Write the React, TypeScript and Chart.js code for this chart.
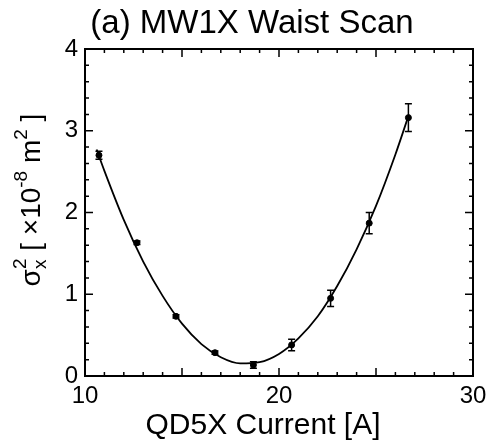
import React, { useEffect, useRef } from "react";
import { Chart, registerables } from "chart.js";

Chart.register(...registerables);

// ---- data ----
const measuredCurrent = [10.72, 12.68, 14.69, 16.7, 18.68, 20.65, 22.66, 24.65, 26.67];
const measuredSigma2 = [2.7, 1.63, 0.73, 0.285, 0.135, 0.38, 0.95, 1.87, 3.16];
const measuredError = [0.05, 0.02, 0.02, 0.02, 0.04, 0.07, 0.1, 0.13, 0.17];

const fitCurrent = [10.6, 11, 12, 13, 14, 15, 16, 17, 18, 19, 20, 21, 22, 23, 24, 25, 26, 26.7];
const fitSigma2 = [2.77, 2.51, 1.91, 1.4, 0.98, 0.64, 0.39, 0.23, 0.155, 0.17, 0.27, 0.46, 0.73, 1.1, 1.55, 2.08, 2.71, 3.2];

const xTickLabels = [10, 20, 30];
const yTickLabels = [0, 1, 2, 3, 4];

const titleText = "(a) MW1X Waist Scan";
const xTitleText = "QD5X Current [A]";

const FONT = "'Liberation Sans', Arial, Helvetica, sans-serif";

type Run = { t: string; size: number; dy: number; stack?: boolean };

const yTitleRuns: Run[] = [
  { t: "σ", size: 28, dy: 0 },
  { t: "x", size: 19, dy: 6 },
  { t: "2", size: 19, dy: -14, stack: true },
  { t: " [ ×10", size: 28, dy: 0 },
  { t: "-8", size: 19, dy: -13 },
  { t: " m", size: 28, dy: 0 },
  { t: "2", size: 19, dy: -13 },
  { t: " ]", size: 28, dy: 0 },
];

const decorPlugin = {
  id: "decor",
  afterDatasetsDraw(chart: any) {
    const ctx = chart.ctx as CanvasRenderingContext2D;
    const xs = chart.scales.x;
    const ys = chart.scales.y;
    ctx.save();
    ctx.strokeStyle = "#000";
    ctx.lineWidth = 1.5;
    const cap = 3.5;
    for (let i = 0; i < measuredCurrent.length; i++) {
      const px = xs.getPixelForValue(measuredCurrent[i]);
      const p1 = ys.getPixelForValue(measuredSigma2[i] + measuredError[i]);
      const p2 = ys.getPixelForValue(measuredSigma2[i] - measuredError[i]);
      ctx.beginPath();
      ctx.moveTo(px, p1);
      ctx.lineTo(px, p2);
      ctx.moveTo(px - cap, p1);
      ctx.lineTo(px + cap, p1);
      ctx.moveTo(px - cap, p2);
      ctx.lineTo(px + cap, p2);
      ctx.stroke();
    }
    ctx.restore();
  },
  afterDraw(chart: any) {
    const ctx = chart.ctx as CanvasRenderingContext2D;
    const { left, right, top, bottom } = chart.chartArea;
    const xs = chart.scales.x;
    const ys = chart.scales.y;
    ctx.save();
    ctx.strokeStyle = "#000";
    ctx.fillStyle = "#000";

    // frame
    ctx.lineWidth = 2;
    ctx.strokeRect(left, top, right - left, bottom - top);

    // inward ticks
    ctx.lineWidth = 1.5;
    ctx.beginPath();
    const xMin = xs.min, xMax = xs.max;
    const nx = Math.round(xMax - xMin);
    for (let i = 0; i <= nx; i++) {
      const v = xMin + i;
      const px = xs.getPixelForValue(v);
      const len = i % 5 === 0 ? 8 : 4;
      ctx.moveTo(px, bottom);
      ctx.lineTo(px, bottom - len);
      ctx.moveTo(px, top);
      ctx.lineTo(px, top + len);
    }
    const yMin = ys.min, yMax = ys.max;
    const ny = Math.round((yMax - yMin) / 0.2);
    for (let i = 0; i <= ny; i++) {
      const v = yMin + i * 0.2;
      const py = ys.getPixelForValue(v);
      const len = i % 5 === 0 ? 8 : 4;
      ctx.moveTo(left, py);
      ctx.lineTo(left + len, py);
      ctx.moveTo(right, py);
      ctx.lineTo(right - len, py);
    }
    ctx.stroke();

    // title
    ctx.textAlign = "center";
    ctx.textBaseline = "alphabetic";
    ctx.font = `33px ${FONT}`;
    ctx.fillText(titleText, 252, 33);

    // x title
    ctx.font = `30px ${FONT}`;
    ctx.fillText(xTitleText, 263, 434);

    // y title (rotated, with sub/superscripts)
    ctx.textAlign = "left";
    let total = 0;
    let prevStart = 0;
    let prevW = 0;
    const widths: number[] = [];
    for (const r of yTitleRuns) {
      ctx.font = `${r.size}px ${FONT}`;
      widths.push(ctx.measureText(r.t).width);
    }
    {
      let x = 0;
      yTitleRuns.forEach((r, i) => {
        const w = widths[i];
        if (r.stack) {
          const end = Math.max(prevStart + prevW, prevStart + w);
          x = end;
        } else {
          prevStart = x;
          prevW = w;
          x += w;
        }
      });
      total = x;
    }
    ctx.translate(40, 200);
    ctx.rotate(-Math.PI / 2);
    let x = -total / 2;
    prevStart = x;
    prevW = 0;
    yTitleRuns.forEach((r, i) => {
      const w = widths[i];
      ctx.font = `${r.size}px ${FONT}`;
      if (r.stack) {
        ctx.fillText(r.t, prevStart, r.dy);
        x = Math.max(prevStart + prevW, prevStart + w);
      } else {
        ctx.fillText(r.t, x, r.dy);
        prevStart = x;
        prevW = w;
        x += w;
      }
    });
    ctx.restore();
  },
};

export default function App() {
  const ref = useRef<HTMLCanvasElement | null>(null);
  useEffect(() => {
    if (!ref.current) return;
    const chart = new Chart(ref.current, {
      type: "scatter",
      data: {
        datasets: [
          {
            type: "line",
            data: fitCurrent.map((x, i) => ({ x, y: fitSigma2[i] })),
            borderColor: "#000",
            borderWidth: 1.8,
            pointRadius: 0,
            cubicInterpolationMode: "monotone",
            fill: false,
          } as any,
          {
            type: "scatter",
            data: measuredCurrent.map((x, i) => ({ x, y: measuredSigma2[i] })),
            backgroundColor: "#000",
            borderColor: "#000",
            pointRadius: 3,
          },
        ],
      },
      options: {
        animation: false,
        responsive: false,
        layout: { padding: { left: 0, right: 22, top: 49, bottom: 0 } },
        plugins: { legend: { display: false }, tooltip: { enabled: false }, title: { display: false } },
        scales: {
          x: {
            type: "linear",
            min: 10,
            max: 30,
            afterFit: (s: any) => {
              s.height = 68;
            },
            afterBuildTicks: (s: any) => {
              s.ticks = xTickLabels.map((v) => ({ value: v }));
            },
            grid: { display: false, drawTicks: false },
            border: { display: false },
            ticks: {
              color: "#000",
              font: { family: FONT, size: 24 },
              padding: 6,
              maxRotation: 0,
              autoSkip: false,
            },
          },
          y: {
            type: "linear",
            min: 0,
            max: 4,
            afterFit: (s: any) => {
              s.width = 85;
            },
            afterBuildTicks: (s: any) => {
              s.ticks = yTickLabels.map((v) => ({ value: v }));
            },
            grid: { display: false, drawTicks: false },
            border: { display: false },
            ticks: {
              color: "#000",
              font: { family: FONT, size: 24 },
              padding: 7,
              autoSkip: false,
            },
          },
        },
      },
      plugins: [decorPlugin],
    });
    return () => chart.destroy();
  }, []);
  return (
    <div style={{ position: "fixed", left: 0, top: 0, width: 495, height: 444, background: "#fff" }}>
      <canvas ref={ref} width={495} height={444} style={{ display: "block" }} />
    </div>
  );
}
